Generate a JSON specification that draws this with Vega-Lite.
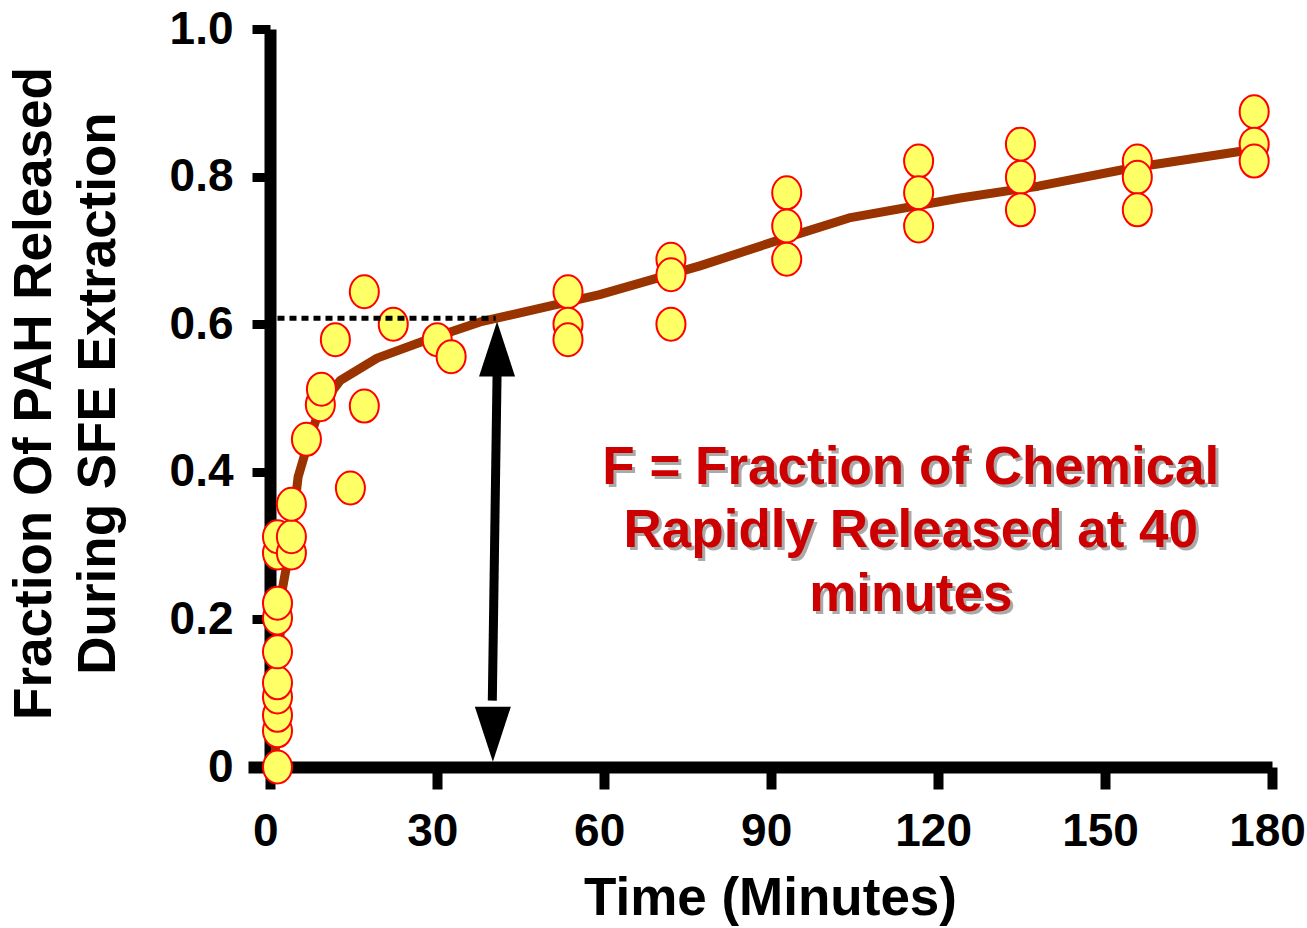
{
  "$schema": "https://vega.github.io/schema/vega-lite/v6.json",
  "width": 1024,
  "height": 738,
  "autosize": "none",
  "padding": {"left": 248, "top": 29, "right": 35, "bottom": 161},
  "background": "white",
  "config": {
    "view": {"stroke": null},
    "axis": {
      "labelFont": "Liberation Sans", "labelFontWeight": "bold", "labelFontSize": 46, "labelColor": "black", "labelFlush": false,
      "titleFont": "Liberation Sans", "titleFontWeight": "bold", "titleFontSize": 53, "titleColor": "black",
      "domainColor": "black", "domainWidth": 12, "tickColor": "black", "grid": false
    }
  },
  "datasets": {
    "obs": [
      {"t": 1.3, "f": 0.0}, {"t": 1.3, "f": 0.049}, {"t": 1.3, "f": 0.07}, {"t": 1.3, "f": 0.095},
      {"t": 1.3, "f": 0.114}, {"t": 1.3, "f": 0.156}, {"t": 1.3, "f": 0.202}, {"t": 1.3, "f": 0.222},
      {"t": 1.3, "f": 0.29}, {"t": 1.3, "f": 0.312},
      {"t": 3.8, "f": 0.29}, {"t": 3.8, "f": 0.312}, {"t": 3.8, "f": 0.356},
      {"t": 6.5, "f": 0.444}, {"t": 9.0, "f": 0.491}, {"t": 9.2, "f": 0.512},
      {"t": 11.7, "f": 0.579}, {"t": 14.4, "f": 0.378}, {"t": 16.9, "f": 0.644}, {"t": 16.9, "f": 0.489},
      {"t": 22.1, "f": 0.6}, {"t": 30.0, "f": 0.579}, {"t": 32.5, "f": 0.556},
      {"t": 53.5, "f": 0.644}, {"t": 53.5, "f": 0.6}, {"t": 53.5, "f": 0.579},
      {"t": 72.0, "f": 0.688}, {"t": 72.0, "f": 0.667}, {"t": 72.0, "f": 0.6},
      {"t": 92.8, "f": 0.778}, {"t": 92.8, "f": 0.733}, {"t": 92.8, "f": 0.688},
      {"t": 116.5, "f": 0.821}, {"t": 116.5, "f": 0.778}, {"t": 116.5, "f": 0.733},
      {"t": 134.8, "f": 0.844}, {"t": 134.8, "f": 0.799}, {"t": 134.8, "f": 0.755},
      {"t": 155.8, "f": 0.821}, {"t": 155.8, "f": 0.799}, {"t": 155.8, "f": 0.755},
      {"t": 176.8, "f": 0.888}, {"t": 176.8, "f": 0.844}, {"t": 176.8, "f": 0.821}
    ],
    "fit": [
      {"t": 0.8, "f": 0.0}, {"t": 1.4, "f": 0.12}, {"t": 2.15, "f": 0.24}, {"t": 3.6, "f": 0.3},
      {"t": 5.0, "f": 0.393}, {"t": 6.6, "f": 0.434}, {"t": 9.0, "f": 0.488}, {"t": 12.6, "f": 0.524},
      {"t": 19.2, "f": 0.554}, {"t": 28.2, "f": 0.579}, {"t": 37.7, "f": 0.603}, {"t": 59.2, "f": 0.64},
      {"t": 77.2, "f": 0.679}, {"t": 92.6, "f": 0.717}, {"t": 104, "f": 0.744}, {"t": 124, "f": 0.771},
      {"t": 138, "f": 0.787}, {"t": 155, "f": 0.812}, {"t": 178.6, "f": 0.839}
    ],
    "dot": [{"t": 1.3, "f": 0.608}, {"t": 40.5, "f": 0.608}],
    "shaft": [{"t": 40.75, "f": 0.53, "t2": 39.9, "f2": 0.09}],
    "heads": [{"t": 40.75, "f": 0.5665, "dir": "up"}, {"t": 40.0, "f": 0.0445, "dir": "down"}],
    "note": [{"t": 115.1, "f": 0.3835}]
  },
  "encoding": {
    "x": {"field": "t", "type": "quantitative", "scale": {"domain": [-4, 180], "nice": false, "zero": false},
      "axis": {"values": [0, 30, 60, 90, 120, 150, 180], "title": "Time (Minutes)", "tickWidth": 10, "tickSize": 22,
        "labelPadding": 20, "labelOffset": -5, "titleX": 522, "titleY": 147, "titleBaseline": "alphabetic", "titleAlign": "center"}},
    "y": {"field": "f", "type": "quantitative", "scale": {"domain": [0, 1], "nice": false},
      "axis": {"values": [0, 0.2, 0.4, 0.6, 0.8, 1.0], "offset": -22, "tickWidth": 9, "tickSize": 18, "labelPadding": 19,
        "labelExpr": "datum.value == 0 ? '0' : format(datum.value, '.1f')",
        "title": ["Fraction Of PAH Released", "During SFE Extraction"], "titleAngle": -90, "titleLineHeight": 64,
        "titleX": -220, "titleY": 364, "titleBaseline": "alphabetic", "titleAlign": "center"}}
  },
  "layer": [
    {"data": {"name": "fit"}, "mark": {"type": "line", "color": "#993300", "strokeWidth": 9, "strokeJoin": "round"}},
    {"data": {"name": "shaft"}, "mark": {"type": "rule", "color": "black", "strokeWidth": 9},
      "encoding": {"x2": {"field": "t2"}, "y2": {"field": "f2"}}},
    {"data": {"name": "heads"}, "mark": {"type": "point", "filled": true, "color": "black", "opacity": 1, "size": 3025},
      "encoding": {"shape": {"field": "dir", "type": "nominal", "legend": null,
        "scale": {"domain": ["up", "down"], "range": ["M0,-1L0.655,1L-0.655,1Z", "M0,1L0.655,-1L-0.655,-1Z"]}}}},
    {"data": {"name": "obs"}, "mark": {"type": "point", "filled": true, "fill": "#ffff66", "stroke": "#ff0000", "strokeWidth": 2, "opacity": 1, "size": 1089,
      "shape": "M-0.88,0A0.88,1,0,1,0,0.88,0A0.88,1,0,1,0,-0.88,0Z"}},
    {"data": {"name": "dot"}, "mark": {"type": "line", "color": "black", "strokeWidth": 5, "strokeDash": [7, 5]}},
    {"data": {"name": "note"}, "mark": {"type": "text", "text": ["F = Fraction of Chemical", "Rapidly Released at 40", "minutes"],
      "font": "Liberation Sans", "fontWeight": "bold", "fontSize": 53, "lineHeight": 63.5, "align": "center", "baseline": "alphabetic",
      "color": "#aaaaaa", "dx": 3, "dy": 3}},
    {"data": {"name": "note"}, "mark": {"type": "text", "text": ["F = Fraction of Chemical", "Rapidly Released at 40", "minutes"],
      "font": "Liberation Sans", "fontWeight": "bold", "fontSize": 53, "lineHeight": 63.5, "align": "center", "baseline": "alphabetic",
      "color": "#cc0000"}}
  ]
}
